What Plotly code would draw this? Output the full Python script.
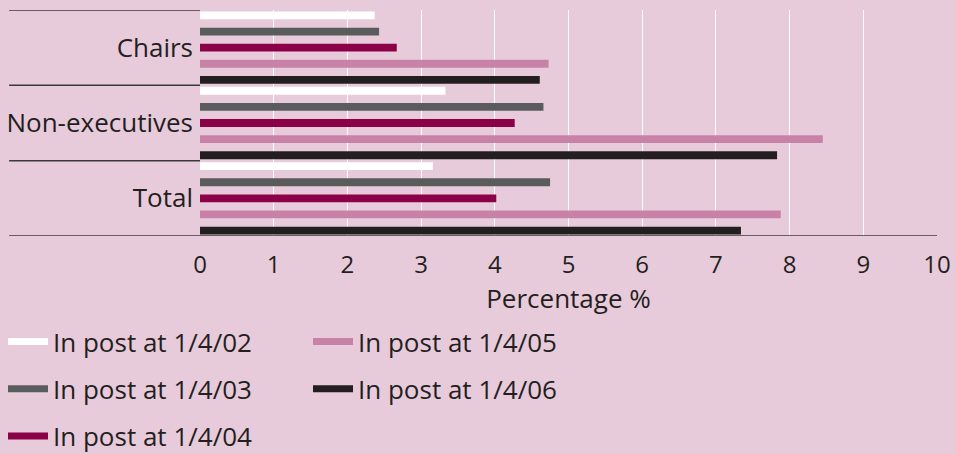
import plotly.graph_objects as go

# Share of appointees from minority ethnic groups, by role and snapshot date
categories = ["Chairs", "Non-executives", "Total"]
series_names = [
    "In post at 1/4/02",
    "In post at 1/4/03",
    "In post at 1/4/04",
    "In post at 1/4/05",
    "In post at 1/4/06",
]
values_0402 = [2.37, 3.33, 3.16]
values_0403 = [2.43, 4.66, 4.75]
values_0404 = [2.67, 4.27, 4.02]
values_0405 = [4.73, 8.45, 7.88]
values_0406 = [4.61, 7.83, 7.34]
x_ticks = list(range(0, 11))

series_values = [values_0402, values_0403, values_0404, values_0405, values_0406]
colors = ["#ffffff", "#5a5b5d", "#8b0046", "#c882a8", "#231f20"]
legend_ids = ["legend", "legend", "legend", "legend2", "legend2"]

BG = "#e8cbdb"
INK = "#231f20"
FONT = "Open Sans, Noto Sans, sans-serif"

# Bars within each category band: thin bars, spread almost to the band edges
BAR_W = 0.104
FIRST_CENTER = -0.428
STEP = 0.214

fig = go.Figure()

for i, (name, vals, col) in enumerate(zip(series_names, series_values, colors)):
    center = FIRST_CENTER + STEP * i
    fig.add_trace(go.Bar(
        y=categories, x=vals, name=name, orientation="h",
        width=BAR_W, offset=center - BAR_W / 2,
        marker=dict(color=col, line=dict(width=0)),
        showlegend=False,
    ))

# Legend entries drawn as thick line swatches
for i, (name, col, lg) in enumerate(zip(series_names, colors, legend_ids)):
    fig.add_trace(go.Scatter(
        x=[None], y=[None], mode="lines", name=name,
        line=dict(color=col, width=7),
        legend=lg, legendgroup=f"g{i}", showlegend=True,
    ))

# Category separators on the left and the baseline
line_style = dict(color="#3a3a3a", width=1.5)
left_edge = -0.259
for b in [-0.5, 0.5, 1.5]:
    fig.add_shape(type="line", xref="paper", yref="y",
                  x0=left_edge, x1=0, y0=b, y1=b, line=line_style)
fig.add_shape(type="line", xref="paper", yref="y",
              x0=left_edge, x1=1, y0=2.5, y1=2.5, line=line_style)

legend_common = dict(
    orientation="v", bgcolor="rgba(0,0,0,0)",
    font=dict(family=FONT, size=26, color=INK),
    traceorder="grouped", tracegroupgap=10.5,
    itemwidth=40, xref="container", yref="container",
    xanchor="left", yanchor="top",
)

fig.update_layout(
    width=955, height=454,
    paper_bgcolor=BG, plot_bgcolor=BG,
    margin=dict(l=200, r=18, t=10, b=218, autoexpand=False),
    barmode="overlay",
    font=dict(family=FONT, size=26, color=INK),
    xaxis=dict(
        range=[0, 10], tickvals=x_ticks, ticktext=[str(t) for t in x_ticks],
        showgrid=True, gridcolor="#ffffff", gridwidth=1.2,
        zeroline=False, showline=False, ticks="", ticklabelstandoff=12,
        tickfont=dict(size=24, color=INK),
        title=dict(text="Percentage %", font=dict(size=26, color=INK), standoff=0),
        fixedrange=True, automargin=False,
    ),
    yaxis=dict(
        range=[2.5, -0.5], showgrid=False, zeroline=False, showline=False,
        ticks="", ticklabelstandoff=6, automargin=False,
        tickfont=dict(size=26, color=INK),
    ),
    legend=dict(x=3 / 955, y=1 - 318 / 454, **legend_common),
    legend2=dict(x=308 / 955, y=1 - 318 / 454, **legend_common),
)

fig.write_html("out.html")
